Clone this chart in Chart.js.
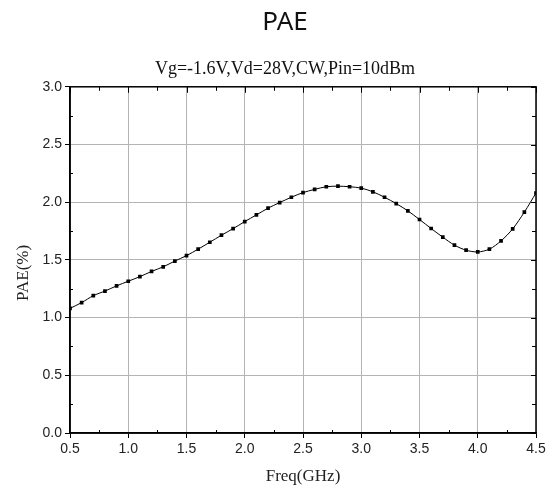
<!DOCTYPE html>
<html>
<head>
<meta charset="utf-8">
<script src="https://cdn.jsdelivr.net/npm/chart.js@4/dist/chart.umd.min.js"></script>
<style>
html,body{margin:0;padding:0;background:#fff;}
#wrap{width:552px;height:487px;}
</style>
</head>
<body>
<div id="wrap"><canvas id="c" width="552" height="487"></canvas></div>
<script>
const chartTitle = "PAE";
const chartSubtitle = "Vg=-1.6V,Vd=28V,CW,Pin=10dBm";
const xAxisTitle = "Freq(GHz)";
const yAxisTitle = "PAE(%)";
const freqs = [0.5,0.6,0.7,0.8,0.9,1.0,1.1,1.2,1.3,1.4,1.5,1.6,1.7,1.8,1.9,2.0,2.1,2.2,2.3,2.4,2.5,
               2.6,2.7,2.8,2.9,3.0,3.1,3.2,3.3,3.4,3.5,3.6,3.7,3.8,3.9,4.0,4.1,4.2,4.3,4.4,4.5];
const pae = [1.08,1.13,1.19,1.23,1.275,1.315,1.355,1.40,1.44,1.49,1.537,1.593,1.653,1.714,1.771,1.832,1.89,1.948,1.997,2.043,2.083,
             2.111,2.134,2.139,2.134,2.122,2.09,2.043,1.988,1.925,1.85,1.772,1.697,1.628,1.584,1.569,1.593,1.665,1.769,1.914,2.08];
const xTicks = [0.5,1.0,1.5,2.0,2.5,3.0,3.5,4.0,4.5];
const yTicks = [0.0,0.5,1.0,1.5,2.0,2.5,3.0];
const xMinor = [0.75,1.25,1.75,2.25,2.75,3.25,3.75,4.25];
const yMinor = [0.25,0.75,1.25,1.75,2.25,2.75];

const framePlugin = {
  id: 'frame',
  afterDraw(chart) {
    const ctx = chart.ctx, a = chart.chartArea;
    const xs = chart.scales.x, ys = chart.scales.y;
    ctx.save();
    ctx.strokeStyle = '#000';
    ctx.lineWidth = 1.5;
    ctx.strokeRect(a.left, a.top, a.right - a.left, a.bottom - a.top);
    ctx.lineWidth = 1;
    ctx.beginPath();
    xMinor.forEach(v => { const p = Math.round(xs.getPixelForValue(v)) + 0.5; ctx.moveTo(p, a.bottom); ctx.lineTo(p, a.bottom - 3); ctx.moveTo(p, a.top); ctx.lineTo(p, a.top + 4); });
    xTicks.forEach(v => { const p = Math.round(xs.getPixelForValue(v)) + 0.5; ctx.moveTo(p, a.top); ctx.lineTo(p, a.top + 6); });
    yMinor.forEach(v => { const p = Math.round(ys.getPixelForValue(v)) + 0.5; ctx.moveTo(a.left, p); ctx.lineTo(a.left + 3, p); ctx.moveTo(a.right, p); ctx.lineTo(a.right - 4, p); });
    yTicks.forEach(v => { const p = Math.round(ys.getPixelForValue(v)) + 0.5; ctx.moveTo(a.right, p); ctx.lineTo(a.right - 5, p); });
    ctx.stroke();
    // y-axis title
    ctx.fillStyle = '#222';
    ctx.font = "17px 'Liberation Serif', 'DejaVu Serif', serif";
    ctx.textAlign = 'center';
    ctx.textBaseline = 'middle';
    ctx.translate(24, (a.top + a.bottom) / 2 + 13);
    ctx.rotate(-Math.PI / 2);
    ctx.fillText(yAxisTitle, 0, 0);
    ctx.restore();
  }
};

new Chart(document.getElementById('c'), {
  type: 'line',
  data: {
    datasets: [{
      data: freqs.map((f, i) => ({x: f, y: pae[i]})),
      borderColor: '#000',
      borderWidth: 1,
      backgroundColor: '#000',
      pointStyle: 'rect',
      pointRadius: 2.6,
      pointBorderWidth: 0,
      tension: 0.3,
      fill: false,
      clip: 0
    }]
  },
  options: {
    responsive: false,
    animation: false,
    devicePixelRatio: 1,
    layout: { padding: { left: 34, right: 16, top: 0, bottom: 0 } },
    plugins: {
      legend: { display: false },
      tooltip: { enabled: false },
      title: {
        display: true, text: chartTitle, fullSize: true,
        font: { family: "'Noto Sans', 'Open Sans', sans-serif", size: 26, weight: 'normal' },
        color: '#111', padding: { top: 7, bottom: 20 }
      },
      subtitle: {
        display: true, text: chartSubtitle, fullSize: true,
        font: { family: "'Liberation Serif', 'DejaVu Serif', serif", size: 18, weight: 'normal' },
        color: '#111', padding: { top: 0, bottom: 7 }
      }
    },
    scales: {
      x: {
        type: 'linear', min: 0.5, max: 4.5,
        afterFit(s) { s.height = 54; },
        afterBuildTicks(s) { s.ticks = xTicks.map(v => ({value: v})); },
        ticks: { callback: v => v.toFixed(1), color: '#222', padding: 3, maxRotation: 0, autoSkip: false,
                 font: { family: "'Liberation Sans', Arial, sans-serif", size: 14 } },
        grid: { color: '#b4b4b4', lineWidth: 1, drawTicks: true, tickLength: 5, tickColor: '#000' },
        border: { display: true, color: '#000', width: 1.5 },
        title: { display: true, text: xAxisTitle, color: '#222', padding: { top: 0, bottom: 0 },
                 font: { family: "'Liberation Serif', 'DejaVu Serif', serif", size: 17 } }
      },
      y: {
        min: 0, max: 3,
        afterFit(s) { s.width = 36; },
        afterBuildTicks(s) { s.ticks = yTicks.map(v => ({value: v})); },
        ticks: { callback: v => v.toFixed(1), color: '#222', padding: 3, autoSkip: false,
                 font: { family: "'Liberation Sans', Arial, sans-serif", size: 14 } },
        grid: { color: '#b4b4b4', lineWidth: 1, drawTicks: true, tickLength: 5, tickColor: '#000' },
        border: { display: true, color: '#000', width: 1.5 },
        title: { display: false }
      }
    }
  },
  plugins: [framePlugin]
});
</script>
</body>
</html>
